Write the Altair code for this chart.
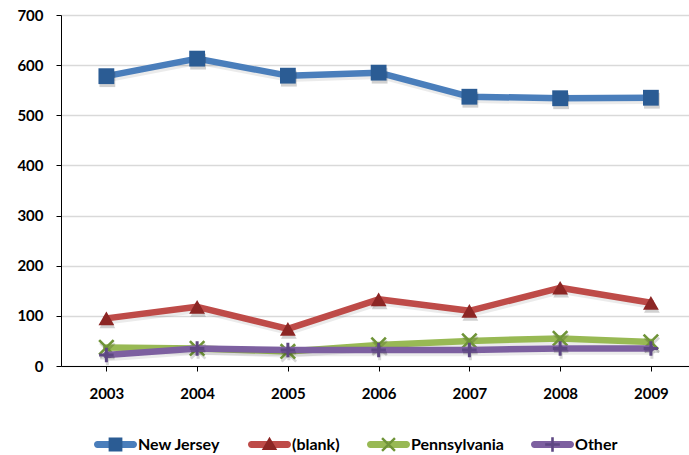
import altair as alt
import pandas as pd

# Yearly counts per origin group
years = [2003, 2004, 2005, 2006, 2007, 2008, 2009]
series_names = ["New Jersey", "(blank)", "Pennsylvania", "Other"]
new_jersey = [578, 613, 579, 585, 537, 534, 535]
blank = [95, 118, 74, 133, 110, 156, 126]
pennsylvania = [37, 35, 29, 42, 50, 55, 48]
other = [22, 35, 32, 32, 32, 35, 35]
y_ticks = [0, 100, 200, 300, 400, 500, 600, 700]

line_colors = ["#4A7EBB", "#BE4B48", "#98B954", "#7D60A0"]
marker_colors = ["#2B5C94", "#8C2624", "#6F9438", "#5E4783"]

rows = []
for name, vals in zip(series_names, [new_jersey, blank, pennsylvania, other]):
    for yr, v in zip(years, vals):
        rows.append({"series": name, "year": yr, "value": v})
df = pd.DataFrame(rows)

FONT = "Lato"

x_enc = alt.X(
    "year:Q",
    scale=alt.Scale(domain=[2002.5, 2009.42], nice=False, zero=False),
    axis=alt.Axis(values=years, format="d", title=None, grid=False,
                  tickSize=5, labelPadding=15),
)
y_enc = alt.Y(
    "value:Q",
    scale=alt.Scale(domain=[0, 700], nice=False),
    axis=alt.Axis(values=y_ticks, title=None, grid=True, tickSize=5,
                  labelPadding=13),
)

# marker glyphs drawn on the lines
plot_markers = [
    dict(shape="square", size=250, filled=True),
    dict(shape="triangle-up", size=250, filled=True),
    dict(shape="M-1,-1L1,1M-1,1L1,-1", size=210, filled=False, strokeWidth=2.6),
    dict(shape="M-1,0L1,0M0,-1L0,1", size=210, filled=False, strokeWidth=3),
]

layers = []
for name, lc, mc, mk in zip(series_names, line_colors, marker_colors, plot_markers):
    base = alt.Chart(df).transform_filter(alt.datum.series == name)
    line_shadow = base.mark_line(
        strokeWidth=6.5, strokeCap="round", strokeJoin="round",
        color="#000000", opacity=0.08, yOffset=3, xOffset=1,
    ).encode(x=x_enc, y=y_enc)
    line = base.mark_line(
        strokeWidth=6.5, strokeCap="round", strokeJoin="round", color=lc
    ).encode(x=x_enc, y=y_enc)
    shadow_kw = dict(mk)
    marker_kw = dict(mk)
    shadow_kw.update(color="#000000", opacity=0.18 if mk["filled"] else 0.15)
    marker_kw.update(color=mc, opacity=1)
    m_shadow = base.mark_point(xOffset=1, yOffset=3, **shadow_kw).encode(x=x_enc, y=y_enc)
    marker = base.mark_point(**marker_kw).encode(x=x_enc, y=y_enc)
    layers += [line_shadow, line, m_shadow, marker]

# legend glyphs, unit coordinates; the corner specks keep both legends the same size
ANCHORS = ("M-1,0L-1,0.002L-0.998,0Z M1,0L1,0.002L0.998,0Z "
           "M0,-1L0.002,-1L0,-0.998Z M0,1L0.002,1L0,0.998Z ")
LEGEND_LINE = ANCHORS + ("M-0.84,-0.16L0.84,-0.16A0.16,0.16 0 0 1 0.84,0.16"
                         "L-0.84,0.16A0.16,0.16 0 0 1 -0.84,-0.16Z")
legend_marks = [
    ANCHORS + "M-0.32,-0.32L0.32,-0.32L0.32,0.32L-0.32,0.32Z",
    ANCHORS + "M0,-0.36L0.36,0.26L-0.36,0.26Z",
    ANCHORS + ("M-0.34,-0.26L-0.26,-0.34L0.34,0.26L0.26,0.34Z "
               "M0.26,-0.34L0.34,-0.26L-0.26,0.34L-0.34,0.26Z"),
    ANCHORS + ("M-0.34,-0.06L0.34,-0.06L0.34,0.06L-0.34,0.06Z "
               "M-0.06,-0.34L0.06,-0.34L0.06,0.34L-0.06,0.34Z"),
]

LEG_X = 33
LEG_Y = 408


def legend_props(**kw):
    return alt.Legend(
        title=None, orient="none", legendX=LEG_X, legendY=LEG_Y,
        direction="horizontal", symbolSize=1849, symbolStrokeWidth=0,
        symbolOpacity=1, labelFont=FONT, labelFontSize=16,
        labelFontWeight="bold", columnPadding=27, labelOffset=1,
        padding=0, **kw,
    )


# legend of line swatches (fill channel)
legend_lines = alt.Chart(df).mark_point(filled=True, opacity=0).encode(
    x=x_enc, y=y_enc,
    fill=alt.Fill(
        "series:N", sort=series_names,
        scale=alt.Scale(range=line_colors),
        legend=legend_props(symbolType=LEGEND_LINE, labelColor="#000000", zindex=1),
    ),
)
# legend of marker glyphs drawn over the swatches (colour + shape)
glyph_legend = legend_props(labelColor="transparent", zindex=2)
legend_glyphs = alt.Chart(df).mark_point(filled=True, opacity=0).encode(
    x=x_enc, y=y_enc,
    color=alt.Color(
        "series:N",
        scale=alt.Scale(domain=series_names, range=marker_colors),
        legend=glyph_legend,
    ),
    shape=alt.Shape(
        "series:N",
        scale=alt.Scale(domain=series_names, range=legend_marks),
        legend=glyph_legend,
    ),
)

chart = (
    alt.layer(*layers, legend_lines, legend_glyphs)
    .properties(
        width=628, height=351,
        autosize=alt.AutoSizeParams(type="none"),
        padding={"left": 61, "top": 15, "right": 0, "bottom": 89},
        background="#FFFFFF",
    )
    .configure_view(strokeWidth=0)
    .configure_axis(
        labelFont=FONT, labelFontSize=15, labelFontWeight="bold",
        labelColor="#000000", domainColor="#000000", domainWidth=1,
        tickColor="#000000", tickWidth=1, gridColor="#D9D9D9", gridWidth=1.5,
    )
)

chart.save("out.html", embed_options={"renderer": "svg", "actions": False})
